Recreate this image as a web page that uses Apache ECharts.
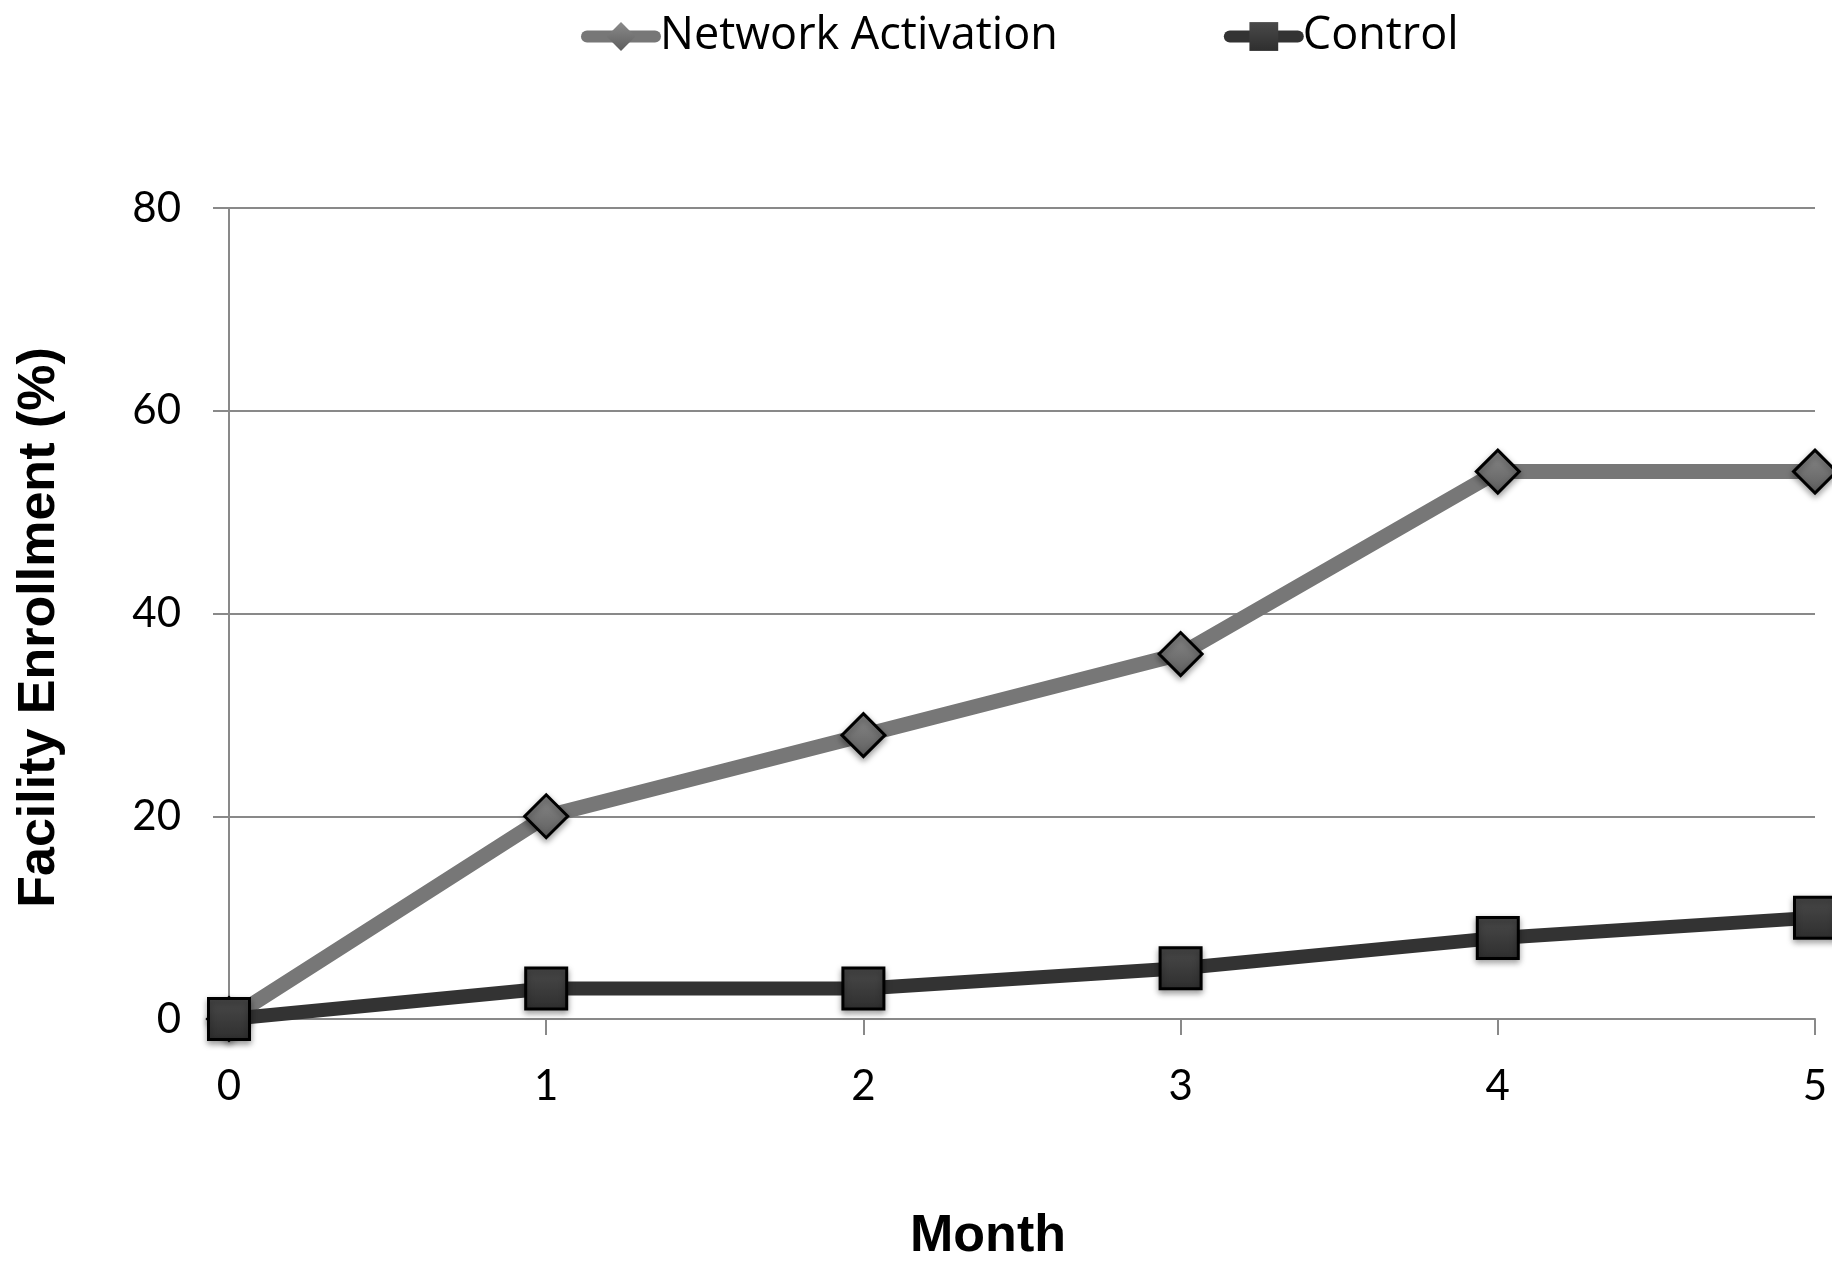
<!DOCTYPE html>
<html>
<head>
<meta charset="utf-8">
<script src="https://cdn.jsdelivr.net/npm/echarts@6/dist/echarts.min.js"></script>
<style>
  html, body { margin: 0; padding: 0; background: #ffffff; }
  #chart { width: 1832px; height: 1269px; }
</style>
</head>
<body>
<div id="chart"></div>
<script>
// Facility enrollment by month for the two study arms
const months = ['0', '1', '2', '3', '4', '5'];
const networkActivation = [0, 20, 28, 36, 54, 54];
const control = [0, 3, 3, 5, 8, 10];
const yTicks = { min: 0, max: 80, interval: 20 };

const gridGray = '#898989';
const labelFont = 'Lato, "Open Sans", sans-serif';
const legendFont = '"Open Sans", Lato, sans-serif';
const titleFont = '"Liberation Sans", Arial, sans-serif';

const chart = echarts.init(document.getElementById('chart'), null, { renderer: 'canvas' });

const markerShadow = {
  shadowBlur: 6,
  shadowColor: 'rgba(0,0,0,0.35)',
  shadowOffsetY: 3
};

chart.setOption({
  backgroundColor: '#ffffff',
  animation: false,
  legend: {
    top: 9,
    left: 576,
    itemWidth: 68,
    itemHeight: 36,
    itemGap: 166,
    lineStyle: { width: 12, cap: 'round' },
    itemStyle: { borderWidth: 0, shadowBlur: 0 },
    textStyle: { fontFamily: legendFont, fontSize: 45, color: '#000' },
    data: ['Network Activation', 'Control']
  },
  grid: { left: 229, right: 17, top: 208, bottom: 250, containLabel: false },
  xAxis: {
    type: 'category',
    data: months,
    boundaryGap: false,
    name: 'Month',
    nameLocation: 'middle',
    nameGap: 192,
    nameTextStyle: {
      fontFamily: titleFont, fontWeight: 'bold', fontSize: 52, color: '#000',
      padding: [0, 68, 0, 0]
    },
    axisLine: { lineStyle: { color: gridGray, width: 2 } },
    axisTick: { show: true, length: 16, alignWithLabel: true, lineStyle: { color: gridGray, width: 2 } },
    axisLabel: { fontFamily: labelFont, fontSize: 42, color: '#000', margin: 46 }
  },
  yAxis: {
    type: 'value',
    min: yTicks.min,
    max: yTicks.max,
    interval: yTicks.interval,
    name: 'Facility Enrollment (%)',
    nameLocation: 'middle',
    nameGap: 163,
    nameTextStyle: {
      fontFamily: titleFont, fontWeight: 'bold', fontSize: 52, color: '#000',
      padding: [0, 28, 0, 0]
    },
    axisLine: { show: true, lineStyle: { color: gridGray, width: 2 } },
    axisTick: { show: true, length: 16, lineStyle: { color: gridGray, width: 2 } },
    splitLine: { show: true, lineStyle: { color: gridGray, width: 2 } },
    axisLabel: { fontFamily: labelFont, fontSize: 42, color: '#000', margin: 48 }
  },
  series: [
    {
      name: 'Network Activation',
      type: 'line',
      data: networkActivation,
      symbol: 'diamond',
      symbolSize: 43,
      lineStyle: { color: '#777777', width: 15 },
      itemStyle: Object.assign({
        color: {
          type: 'linear', x: 0, y: 0, x2: 0, y2: 1,
          colorStops: [{ offset: 0, color: '#8a8a8a' }, { offset: 1, color: '#5e5e5e' }]
        },
        borderColor: '#000',
        borderWidth: 3
      }, markerShadow),
      z: 2
    },
    {
      name: 'Control',
      type: 'line',
      data: control,
      symbol: 'rect',
      symbolSize: 41,
      lineStyle: { color: '#333333', width: 14 },
      itemStyle: Object.assign({
        color: {
          type: 'linear', x: 0, y: 0, x2: 0, y2: 1,
          colorStops: [{ offset: 0, color: '#4a4a4a' }, { offset: 1, color: '#2e2e2e' }]
        },
        borderColor: '#000',
        borderWidth: 3
      }, markerShadow),
      z: 3
    }
  ]
});
</script>
</body>
</html>
